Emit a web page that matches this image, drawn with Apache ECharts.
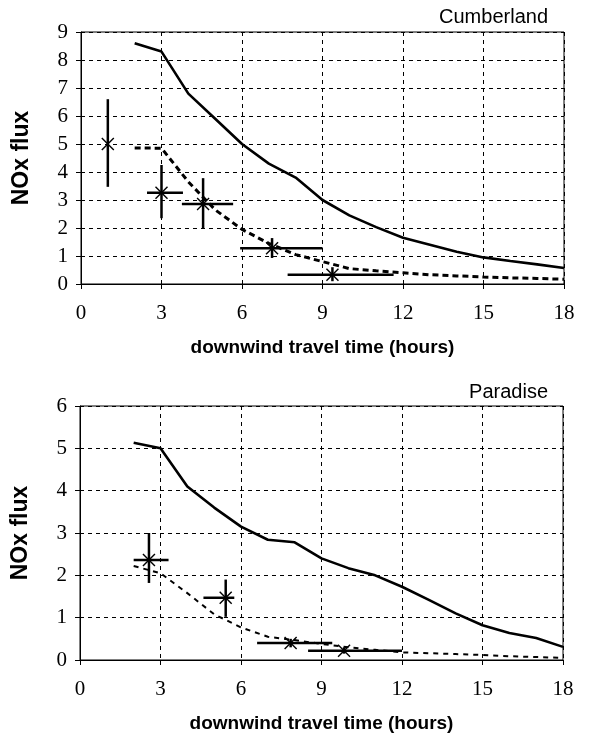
<!DOCTYPE html>
<html>
<head>
<meta charset="utf-8">
<script src="https://cdn.jsdelivr.net/npm/echarts@6/dist/echarts.min.js"></script>
<style>
html, body { margin: 0; padding: 0; background: #fff; }
#chart { width: 589px; height: 741px; }
</style>
</head>
<body>
<div id="chart"></div>
<script>
// hours along the x axis
var hours = [2, 3, 4, 5, 6, 7, 8, 9, 10, 11, 12, 13, 14, 15, 16, 17, 18];
var xTicks = [0, 3, 6, 9, 12, 15, 18];

// Cumberland
var cumbSolid = [8.6, 8.3, 6.8, 5.9, 5.0, 4.3, 3.8, 3.0, 2.45, 2.03, 1.65, 1.4, 1.15, 0.95, 0.82, 0.7, 0.57];
var cumbDashed = [4.86, 4.85, 3.65, 2.65, 1.95, 1.45, 1.05, 0.8, 0.55, 0.47, 0.4, 0.33, 0.29, 0.25, 0.22, 0.2, 0.17];
// [x, y, xLow, xHigh, yLow, yHigh]
var cumbObs = [
    [1.0, 5.0, 1.0, 1.0, 3.47, 6.6],
    [3.0, 3.26, 2.46, 3.8, 2.35, 4.25],
    [4.55, 2.86, 3.76, 5.67, 2.0, 3.78],
    [7.12, 1.28, 5.93, 9.0, 0.93, 1.64],
    [9.37, 0.33, 7.7, 11.65, 0.1, 0.6]
];

// Paradise
var paraSolid = [5.13, 5.0, 4.1, 3.6, 3.15, 2.84, 2.78, 2.4, 2.17, 2.0, 1.73, 1.42, 1.1, 0.82, 0.64, 0.52, 0.31];
var paraDashed = [2.22, 2.05, 1.58, 1.08, 0.77, 0.55, 0.47, 0.38, 0.3, 0.24, 0.18, 0.16, 0.14, 0.12, 0.09, 0.07, 0.05];
var paraObs = [
    [2.57, 2.36, 2.0, 3.3, 1.82, 3.0],
    [5.43, 1.47, 4.6, 5.75, 1.02, 1.9],
    [7.85, 0.4, 6.6, 9.4, 0.3, 0.5],
    [9.84, 0.22, 8.5, 12.0, 0.15, 0.3]
];

function pairs(xs, ys) {
    return xs.map(function (x, i) { return [x, ys[i]]; });
}

function renderBar(params, api) {
    var c = api.coord([api.value(0), api.value(1)]);
    var l = api.coord([api.value(2), api.value(1)]);
    var r = api.coord([api.value(3), api.value(1)]);
    var lo = api.coord([api.value(0), api.value(4)]);
    var hi = api.coord([api.value(0), api.value(5)]);
    var s = 6;
    var bar = { stroke: '#000', lineWidth: 2.5 };
    var star = { stroke: '#000', lineWidth: 1.4 };
    var kids = [];
    if (r[0] - l[0] > 1) {
        kids.push({ type: 'line', shape: { x1: l[0], y1: c[1], x2: r[0], y2: c[1] }, style: bar });
    }
    kids.push({ type: 'line', shape: { x1: c[0], y1: lo[1], x2: c[0], y2: hi[1] }, style: bar });
    kids.push({ type: 'line', shape: { x1: c[0] - s, y1: c[1] - s, x2: c[0] + s, y2: c[1] + s }, style: star });
    kids.push({ type: 'line', shape: { x1: c[0] - s, y1: c[1] + s, x2: c[0] + s, y2: c[1] - s }, style: star });
    return { type: 'group', children: kids };
}

var gridLine = { show: true, lineStyle: { color: '#000', type: [4, 4], width: 1 } };
var tickFont = { fontFamily: 'Liberation Serif', fontSize: 21, color: '#000' };
var nameFont = { fontFamily: 'Liberation Sans', fontWeight: 'bold', fontSize: 19, color: '#000' };

function xAx(idx) {
    return {
        type: 'value', gridIndex: idx, min: 0, max: 18, interval: 3,
        name: 'downwind travel time (hours)', nameLocation: 'middle', nameGap: 54,
        nameTextStyle: nameFont,
        axisLine: { show: true, lineStyle: { color: '#000', width: 1 } },
        axisTick: { show: true, length: 5, lineStyle: { color: '#000' } },
        axisLabel: Object.assign({ margin: 19 }, tickFont),
        splitLine: gridLine
    };
}
function yAx(idx, max) {
    return {
        type: 'value', gridIndex: idx, min: 0, max: max, interval: 1,
        name: 'NOx flux', nameLocation: 'middle', nameGap: 48,
        nameTextStyle: { fontFamily: 'Liberation Sans', fontWeight: 'bold', fontSize: 23, color: '#000' },
        axisLine: { show: true, lineStyle: { color: '#000', width: 1 } },
        axisTick: { show: true, length: 5, lineStyle: { color: '#000' } },
        axisLabel: Object.assign({ margin: 13 }, tickFont),
        splitLine: gridLine
    };
}

var chart = echarts.init(document.getElementById('chart'));
chart.setOption({
    animation: false,
    backgroundColor: '#fff',
    title: [
        { text: 'Cumberland', right: 36, top: 2, textStyle: { fontFamily: 'Liberation Sans', fontWeight: 'normal', fontSize: 20, color: '#000' } },
        { text: 'Paradise', right: 36, top: 377, textStyle: { fontFamily: 'Liberation Sans', fontWeight: 'normal', fontSize: 20, color: '#000' } }
    ],
    grid: [
        { left: 81, right: 25, top: 32, height: 252, show: true, borderColor: '#000', borderWidth: 1 },
        { left: 80, right: 26, top: 406, height: 254, show: true, borderColor: '#000', borderWidth: 1 }
    ],
    xAxis: [xAx(0), xAx(1)],
    yAxis: [yAx(0, 9), yAx(1, 6)],
    series: [
        { type: 'line', xAxisIndex: 0, yAxisIndex: 0, data: pairs(hours, cumbSolid), symbol: 'none',
          lineStyle: { color: '#000', width: 2.6 } },
        { type: 'line', xAxisIndex: 0, yAxisIndex: 0, data: pairs(hours, cumbDashed), symbol: 'none',
          lineStyle: { color: '#000', width: 3, type: [6, 4] } },
        { type: 'custom', xAxisIndex: 0, yAxisIndex: 0, data: cumbObs, renderItem: renderBar,
          encode: { x: 0, y: 1 }, z: 5 },
        { type: 'line', xAxisIndex: 1, yAxisIndex: 1, data: pairs(hours, paraSolid), symbol: 'none',
          lineStyle: { color: '#000', width: 2.6 } },
        { type: 'line', xAxisIndex: 1, yAxisIndex: 1, data: pairs(hours, paraDashed), symbol: 'none',
          lineStyle: { color: '#000', width: 2, type: [5, 5] } },
        { type: 'custom', xAxisIndex: 1, yAxisIndex: 1, data: paraObs, renderItem: renderBar,
          encode: { x: 0, y: 1 }, z: 5 }
    ]
});
</script>
</body>
</html>
